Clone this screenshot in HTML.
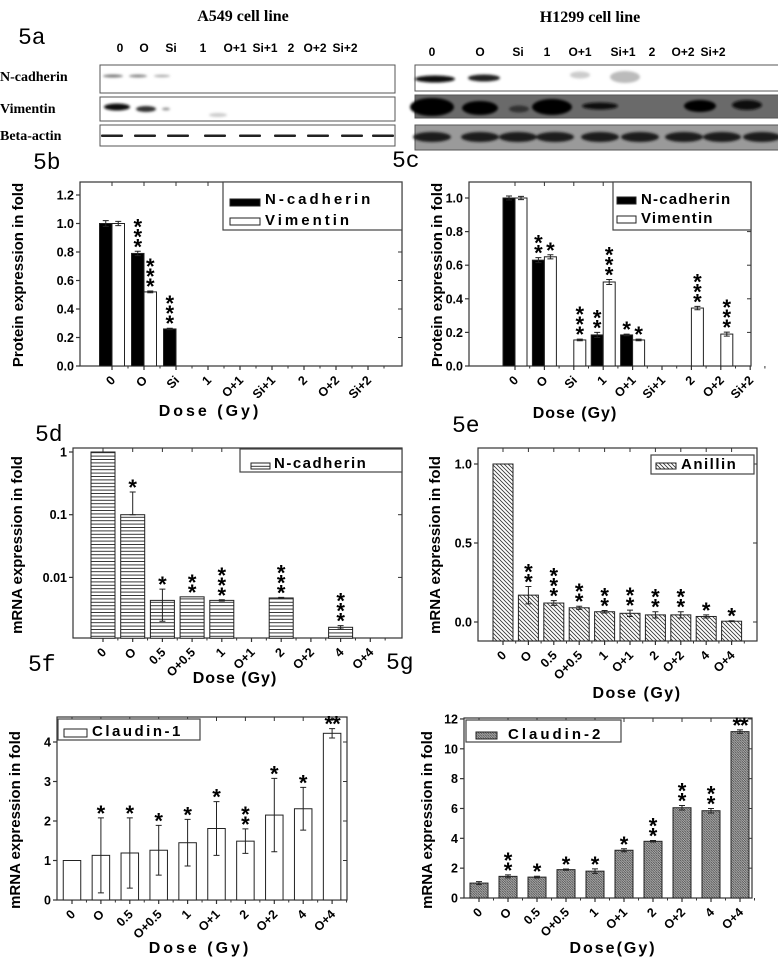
<!DOCTYPE html>
<html><head><meta charset="utf-8"><style>
html,body{margin:0;padding:0;background:#fff;}
svg{display:block;}
text{font-family:"Liberation Sans",Arial,sans-serif;}
.ser{font-family:"Liberation Serif",serif;font-weight:bold;}
.mono{font-family:"Liberation Mono","DejaVu Sans Mono",monospace;}
</style></head><body>
<svg id="fig" width="778" height="960" viewBox="0 0 778 960" xmlns="http://www.w3.org/2000/svg">
<defs>
<filter id="bl" x="-50%" y="-50%" width="200%" height="200%"><feGaussianBlur stdDeviation="1.4"/></filter>
<pattern id="hl" width="6" height="3.4" patternUnits="userSpaceOnUse"><rect width="6" height="3.4" fill="#fff"/><line x1="0" y1="0.5" x2="6" y2="0.5" stroke="#222" stroke-width="0.9"/></pattern>
<pattern id="dg" width="4" height="4" patternUnits="userSpaceOnUse"><rect width="4" height="4" fill="#fff"/><path d="M-1,-1 L5,5 M-1,3 L1,5 M3,-1 L5,1" stroke="#333" stroke-width="0.8"/></pattern>
<pattern id="gg" width="2.4" height="2.4" patternUnits="userSpaceOnUse"><rect width="2.4" height="2.4" fill="#b5b5b5"/><path d="M-1,-1 L3.4,3.4" stroke="#444" stroke-width="0.8"/></pattern>
</defs>

<!-- 5a blots -->
<g>
<text class="ser" x="243" y="21" font-size="16" text-anchor="middle">A549 cell line</text>
<text class="ser" x="590" y="22" font-size="16" text-anchor="middle">H1299 cell line</text>
<text class="mono" x="18" y="44" font-size="23">5a</text>
<text class="ser" x="0" y="81" font-size="14">N-cadherin</text>
<text class="ser" x="0" y="113" font-size="14">Vimentin</text>
<text class="ser" x="0" y="140" font-size="14">Beta-actin</text>
<g id="lanesL" class="ser" font-size="12" text-anchor="middle"></g>
<g id="lanesR" class="ser" font-size="12" text-anchor="middle"></g>
<rect x="100" y="65" width="295" height="28" fill="#fff" stroke="#555"/>
<rect x="100" y="97" width="295" height="24" fill="#fff" stroke="#555"/>
<rect x="100" y="125" width="295" height="21" fill="#fff" stroke="#555"/>
<rect x="415" y="65" width="365" height="26" fill="#fff" stroke="#555"/>
<rect x="415" y="95" width="365" height="23" fill="#6a6a6a" stroke="#555"/>
<rect x="415" y="125" width="365" height="25" fill="#9a9a9a" stroke="#555"/>
<g filter="url(#bl)">
<ellipse cx="113" cy="76" rx="10" ry="1.5" fill="#777"/><ellipse cx="138" cy="76" rx="9" ry="1.5" fill="#888"/><ellipse cx="162" cy="76" rx="8" ry="1.2" fill="#aaa"/>
<ellipse cx="117" cy="107" rx="13" ry="3.5" fill="#111"/><ellipse cx="146" cy="109" rx="10" ry="3" fill="#333"/><ellipse cx="166" cy="109" rx="4" ry="1.5" fill="#999"/><ellipse cx="218" cy="115" rx="9" ry="2" fill="#ccc"/>
<ellipse cx="435" cy="79" rx="20" ry="3.5" fill="#111"/><ellipse cx="484" cy="78" rx="16" ry="3.5" fill="#222"/><ellipse cx="580" cy="75" rx="10" ry="3.5" fill="#ccc"/><ellipse cx="625" cy="77" rx="15" ry="6" fill="#bbb"/>
<ellipse cx="432" cy="107" rx="22" ry="9" fill="#000"/><ellipse cx="480" cy="108" rx="18" ry="7" fill="#000"/><ellipse cx="519" cy="109" rx="10" ry="3.5" fill="#333"/><ellipse cx="552" cy="107" rx="20" ry="8" fill="#000"/><ellipse cx="600" cy="106" rx="18" ry="3.5" fill="#111"/><ellipse cx="700" cy="106" rx="16" ry="6" fill="#000"/><ellipse cx="747" cy="105" rx="15" ry="5" fill="#111"/>
</g>
<g id="actinL"></g><g id="actinR" filter="url(#bl)"></g>
</g>

<g id="charts"></g>
</svg>
<script>
// ---------- data ----------
const catsProtein = ["0","O","Si","1","O+1","Si+1","2","O+2","Si+2"];
const catsMrna = ["0","O","0.5","O+0.5","1","O+1","2","O+2","4","O+4"];

const bNcad = [1.0,0.79,0.26,0,0,0,0,0,0];
const bNcadErr = [0.02,0.015,0.005,0,0,0,0,0,0];
const bVim = [1.0,0.52,0,0,0,0,0,0,0];
const bVimErr = [0.015,0.006,0,0,0,0,0,0,0];
const bNcadStars = ["","***","***","","","","","",""];
const bVimStars = ["","***","","","","","","",""];
const bTicks = [0,0.2,0.4,0.6,0.8,1.0,1.2];
const bTickLabels = ["0.0","0.2","0.4","0.6","0.8","1.0","1.2"];

const cNcad = [1.0,0.63,0,0.185,0.185,0,0,0,0];
const cNcadErr = [0.012,0.015,0,0.015,0.005,0,0,0,0];
const cVim = [1.0,0.65,0.155,0.5,0.155,0,0.345,0.19,0];
const cVimErr = [0.01,0.012,0.005,0.015,0.005,0,0.01,0.012,0];
const cNcadStars = ["","**","","**","*","","","",""];
const cVimStars = ["","*","***","***","*","","***","***",""];
const cTicks = [0,0.2,0.4,0.6,0.8,1.0];
const cTickLabels = ["0.0","0.2","0.4","0.6","0.8","1.0"];

const dVals = [1,0.1,0.0043,0.0049,0.0043,0,0.0047,0,0.0016,0];
const dErrHi = [1,0.23,0.0065,0.0049,0.0044,0,0.0048,0,0.0017,0];
const dErrLo = [1,0.1,0.002,0.0049,0.0042,0,0.0046,0,0.0015,0];
const dStars = ["","*","*","**","***","","***","","***",""];
const dTicks = [1,0.1,0.01];
const dTickLabels = ["1","0.1","0.01"];

const eVals = [1.0,0.17,0.12,0.09,0.065,0.055,0.045,0.045,0.035,0.005];
const eErr = [0,0.055,0.015,0.01,0.008,0.02,0.02,0.02,0.01,0.003];
const eStars = ["","**","***","**","**","**","**","**","*","*"];
const eTicks = [0,0.5,1.0];
const eTickLabels = ["0.0","0.5","1.0"];

const fVals = [1,1.13,1.19,1.26,1.45,1.81,1.49,2.15,2.31,4.22];
const fErr = [0,0.95,0.89,0.63,0.59,0.68,0.31,0.93,0.54,0.12];
const fStars = ["","*","*","*","*","*","**","*","*","h**"];
const fTicks = [0,1,2,3,4];
const fTickLabels = ["0","1","2","3","4"];

const gVals = [1,1.45,1.4,1.9,1.8,3.2,3.8,6.05,5.85,11.15];
const gErr = [0.1,0.1,0.06,0.04,0.15,0.1,0.05,0.15,0.15,0.12];
const gStars = ["","**","*","*","*","*","**","**","**","h**"];
const gTicks = [0,2,4,6,8,10,12];
const gTickLabels = ["0","2","4","6","8","10","12"];

// ---------- helpers ----------
const NS = "http://www.w3.org/2000/svg";
function mk(tag, attrs, parent){const e=document.createElementNS(NS,tag);for(const k in attrs)e.setAttribute(k,attrs[k]);(parent||document.getElementById('charts')).appendChild(e);return e;}

const laneL=[120,144,171,203,235,265,291,315,345], laneR=[432,480,518,547,580,623,652,683,713];
catsProtein.forEach((c,i)=>{
  const t=mk('text',{x:laneL[i],y:52},document.getElementById('lanesL'));t.textContent=c;
  
  
  const t2=mk('text',{x:laneR[i],y:56},document.getElementById('lanesR'));t2.textContent=c;
  
  
});
[112,145,178,215,250,285,318,352,383].forEach(x=>{
  const b=mk('rect',{x:x-11,y:134.5,width:22,height:2.5,fill:'#222',rx:1},document.getElementById('actinL'));
  
  
});
[432,480,518,555,600,640,684,722,762].forEach(x=>{
  const b=mk('ellipse',{cx:x,cy:137,rx:19,ry:5,fill:'#1a1a1a'},document.getElementById('actinR'));
  
  
});

function starsAt(x, yBottom, s, name){
  if(!s) return;
  if(s[0]==='h'){
    const t=mk('text',{x:x,y:yBottom+12,'font-size':22,'font-weight':'bold','text-anchor':'middle','letter-spacing':'-1'});t.textContent=s.slice(1);
    
    
    return;
  }
  for(let k=0;k<s.length;k++){
    const cy=yBottom-k*10;
    const t=mk('text',{x:x,y:cy+12,'font-size':22,'font-weight':'bold','text-anchor':'middle'});t.textContent='*';
    
    
  }
}

function panel(p){
  const g=mk('g',{});
  
  
  const xc=i=>p.c0+p.step*i;
  const fr=mk('rect',{x:p.x0,y:p.top,width:p.x1-p.x0,height:p.bot-p.top,fill:'none',stroke:'#333','stroke-width':1.2},g);
  
  
  p.ticks.forEach((v,i)=>{
    const y=p.y(v);
    mk('line',{x1:p.x0-4,x2:p.x0,y1:y,y2:y,stroke:'#333','stroke-width':1.2},g);
    mk('line',{x1:p.x1-4,x2:p.x1,y1:y,y2:y,stroke:'#333','stroke-width':1},g);
    const t=mk('text',{x:p.x0-6,y:y+4.5,'font-size':12.5,'font-weight':'bold','text-anchor':'end'},g);t.textContent=p.tickLabels[i];
    
    
  });
  p.cats.forEach((c,i)=>{
    const x=xc(i);
    mk('line',{x1:x,x2:x,y1:p.bot,y2:p.bot+4,stroke:'#333','stroke-width':1.2},g);
    mk('line',{x1:x,x2:x,y1:p.top,y2:p.top+4,stroke:'#333','stroke-width':1},g);
    const mx=x+p.step/2;
    mk('line',{x1:mx,x2:mx,y1:p.bot,y2:p.bot+2.5,stroke:'#333','stroke-width':1},g);
    const t=mk('text',{x:0,y:0,'font-size':12.5,'font-weight':'bold','text-anchor':'end',transform:`translate(${x+4},${p.bot+15}) rotate(-45)`},g);t.textContent=c;
    
    
  });
  p.series.forEach(s=>{
    s.vals.forEach((v,i)=>{
      if(!v) return;
      const bx=xc(i)+s.off;
      const y=p.y(v), y0=p.y(p.base);
      const r=mk('rect',{x:bx,y:y,width:p.w,height:y0-y,fill:s.fill,stroke:'#222','stroke-width':1},g);
      
      
      const cx=bx+p.w/2;
      let hi=s.errHi?Math.max(s.errHi[i],v):v+(s.err?s.err[i]:0);
      let lo=s.errLo?Math.min(s.errLo[i]||v,v):v-(s.err?s.err[i]:0);
      if(hi>v||lo<v){
        const yh=p.y(hi), yl=p.y(Math.max(lo,p.base));
        const e=mk('path',{d:`M${cx},${yh}V${yl}M${cx-3},${yh}H${cx+3}M${cx-3},${yl}H${cx+3}`,stroke:'#222','stroke-width':1,fill:'none'},g);
        
        
      }
      const top=p.y(Math.max(hi,v));
      starsAt(cx, top-9, s.stars[i], 'significance-stars');
    });
  });
  const xt=mk('text',{x:p.xt[0],y:p.xt[1],'font-size':16,'font-weight':'bold','text-anchor':'middle','letter-spacing':p.xls},g);xt.textContent=p.xtitle;
  
  
  const yt=mk('text',{x:0,y:0,'font-size':15,'font-weight':'bold','text-anchor':'middle',transform:`translate(${p.yt[0]},${p.yt[1]}) rotate(-90)`},g);yt.textContent=p.ytitle;
  
  
  const pl=mk('text',{x:p.pl[0],y:p.pl[1],'font-size':23,class:'mono'},g);pl.textContent=p.label;
  
  
  const L=p.legend;
  const lb=mk('rect',{x:L.box[0],y:L.box[1],width:L.box[2],height:L.box[3],fill:'#fff',stroke:'#444','stroke-width':1.2},g);
  
  
  L.items.forEach(it=>{
    const sw=mk('rect',{x:it.sw[0],y:it.sw[1],width:it.sw[2],height:it.sw[3],fill:it.fill,stroke:'#222','stroke-width':1},g);
    
    
    const t=mk('text',{x:it.tx[0],y:it.tx[1],'font-size':L.fs,'font-weight':'bold','letter-spacing':L.ls},g);t.textContent=it.text;
    
    
  });
}

// 5b
panel({name:'chart-5b',label:'5b',pl:[33,169],x0:80,x1:402,top:182,bot:366,base:0,y:v=>366-v*142.5,
  ticks:bTicks,tickLabels:bTickLabels,cats:catsProtein,c0:112,step:32,w:12.5,
  series:[{key:'ncad',vals:bNcad,err:bNcadErr,stars:bNcadStars,fill:'#000',off:-12.5},{key:'vim',vals:bVim,err:bVimErr,stars:bVimStars,fill:'#fff',off:0}],
  xtitle:'Dose (Gy)',xt:[210,416],xls:3,ytitle:'Protein expression in fold',yt:[23,275],
  legend:{box:[223,182,179,48],fs:15,ls:3,items:[{sw:[230,199,30,7],fill:'#000',text:'N-cadherin',tx:[265,204]},{sw:[230,218,30,7],fill:'#fff',text:'Vimentin',tx:[265,225]}]}});
// 5c
panel({name:'chart-5c',label:'5c',pl:[392,167],x0:469,x1:751,top:182,bot:366,base:0,y:v=>366-v*168,
  ticks:cTicks,tickLabels:cTickLabels,cats:catsProtein,c0:515,step:29.4,w:12,
  series:[{key:'ncad',vals:cNcad,err:cNcadErr,stars:cNcadStars,fill:'#000',off:-12},{key:'vim',vals:cVim,err:cVimErr,stars:cVimStars,fill:'#fff',off:0}],
  xtitle:'Dose (Gy)',xt:[575,418],xls:1,ytitle:'Protein expression in fold',yt:[442,275],
  legend:{box:[613,182,138,48],fs:15,ls:1.2,items:[{sw:[617,197,19,7],fill:'#000',text:'N-cadherin',tx:[641,204]},{sw:[617,216,19,7],fill:'#fff',text:'Vimentin',tx:[641,223]}]}});
// 5d (log scale)
panel({name:'chart-5d',label:'5d',pl:[35,441],x0:73,x1:402,top:448,bot:638,base:0.00107,y:v=>452-Math.log10(Math.max(v,1e-6))*62.7,
  ticks:dTicks,tickLabels:dTickLabels,cats:catsMrna,c0:103,step:29.7,w:24,
  series:[{key:'ncad-mrna',vals:dVals,errHi:dErrHi,errLo:dErrLo,stars:dStars,fill:'url(#hl)',off:-12}],
  xtitle:'Dose (Gy)',xt:[235,683],xls:1,ytitle:'mRNA expression in fold',yt:[22,545],
  legend:{box:[240,449,162,23],fs:15,ls:1.5,items:[{sw:[251,463,19,6],fill:'url(#hl)',text:'N-cadherin',tx:[274,468]}]}});
// 5e
panel({name:'chart-5e',label:'5e',pl:[452,432],x0:478,x1:757,top:448,bot:641,base:-0.12,y:v=>622-v*158,
  ticks:eTicks,tickLabels:eTickLabels,cats:catsMrna,c0:503,step:25.4,w:20,
  series:[{key:'anillin',vals:eVals,err:eErr,stars:eStars,fill:'url(#dg)',off:-10}],
  xtitle:'Dose (Gy)',xt:[637,698],xls:1.5,ytitle:'mRNA expression in fold',yt:[440,545],
  legend:{box:[651,455,103,19],fs:15,ls:1.5,items:[{sw:[656,463,20,6],fill:'url(#dg)',text:'Anillin',tx:[681,469]}]}});
// 5f
panel({name:'chart-5f',label:'5f',pl:[28,671],x0:57,x1:347,top:717,bot:900,base:0,y:v=>900-v*39.5,
  ticks:fTicks,tickLabels:fTickLabels,cats:catsMrna,c0:72,step:28.9,w:17.5,
  series:[{key:'claudin1',vals:fVals,err:fErr,stars:fStars,fill:'#fff',off:-8.75}],
  xtitle:'Dose (Gy)',xt:[200,953],xls:3,ytitle:'mRNA expression in fold',yt:[20,820],
  legend:{box:[58,719,142,21],fs:15,ls:2.5,items:[{sw:[64,729,23,8],fill:'#fff',text:'Claudin-1',tx:[92,736]}]}});
// 5g
panel({name:'chart-5g',label:'5g',pl:[386,669],x0:464,x1:752,top:718,bot:898,base:0,y:v=>898-v*14.92,
  ticks:gTicks,tickLabels:gTickLabels,cats:catsMrna,c0:479,step:29,w:18,
  series:[{key:'claudin2',vals:gVals,err:gErr,stars:gStars,fill:'url(#gg)',off:-9}],
  xtitle:'Dose(Gy)',xt:[613,953],xls:2,ytitle:'mRNA expression in fold',yt:[432,820],
  legend:{box:[466,720,155,22],fs:15,ls:3,items:[{sw:[476,732,21,7],fill:'url(#gg)',text:'Claudin-2',tx:[508,739]}]}});
</script>
</body></html>
